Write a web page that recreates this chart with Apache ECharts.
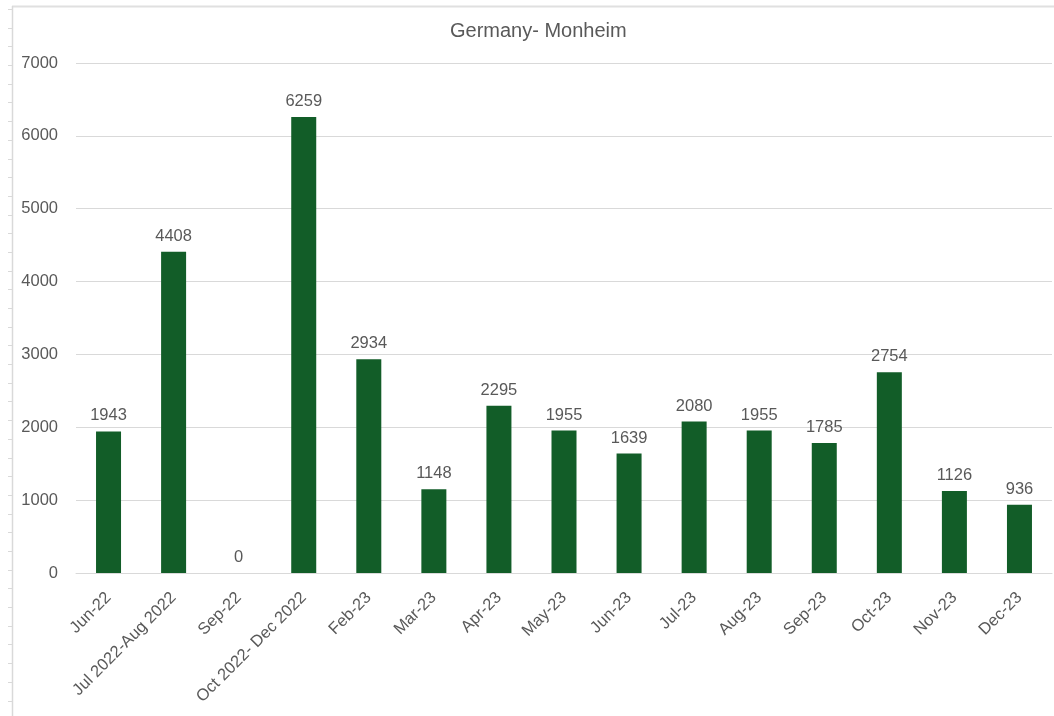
<!DOCTYPE html>
<html>
<head>
<meta charset="utf-8">
<script src="https://cdn.jsdelivr.net/npm/echarts@6/dist/echarts.min.js"></script>
<style>
  html, body { margin: 0; padding: 0; background: #fff; }
  #chart { width: 1054px; height: 716px; }
</style>
</head>
<body>
<div id="chart"></div>
<script>
// Monthly figures for the Monheim site
const categories = [
  'Jun-22', 'Jul 2022-Aug 2022', 'Sep-22', 'Oct 2022- Dec 2022', 'Feb-23',
  'Mar-23', 'Apr-23', 'May-23', 'Jun-23', 'Jul-23', 'Aug-23', 'Sep-23',
  'Oct-23', 'Nov-23', 'Dec-23'
];
const values = [1943, 4408, 0, 6259, 2934, 1148, 2295, 1955, 1639, 2080, 1955, 1785, 2754, 1126, 936];
const yTicks = [0, 1000, 2000, 3000, 4000, 5000, 6000, 7000];

const textColor = '#595959';
const fontFamily = '"Liberation Sans", Arial, Helvetica, sans-serif';

const chart = echarts.init(document.getElementById('chart'), null, { renderer: 'canvas' });

// Sheet frame: thin top and left border with row-style tick marks
const frame = [
  { type: 'line', shape: { x1: 12, y1: 6.5, x2: 1054, y2: 6.5 }, style: { stroke: '#e0e0e0', lineWidth: 2 }, silent: true },
  { type: 'line', shape: { x1: 12.5, y1: 6, x2: 12.5, y2: 716 }, style: { stroke: '#d9d9d9', lineWidth: 1.5 }, silent: true }
];
for (let y = 9; y < 716; y += 18.69) {
  frame.push({ type: 'line', shape: { x1: 8, y1: Math.round(y) + 0.5, x2: 12, y2: Math.round(y) + 0.5 }, style: { stroke: '#d9d9d9', lineWidth: 1 }, silent: true });
}

chart.setOption({
  animation: false,
  backgroundColor: '#ffffff',
  title: {
    text: 'Germany- Monheim',
    left: 445,
    top: 16,
    textStyle: { color: textColor, fontSize: 20, fontWeight: 'normal', fontFamily: fontFamily }
  },
  graphic: frame,
  grid: { left: 76, right: 2, top: 63, bottom: 143, containLabel: false },
  xAxis: {
    type: 'category',
    data: categories,
    axisLine: { show: true, lineStyle: { color: '#d9d9d9', width: 1 } },
    axisTick: { show: false },
    axisLabel: {
      rotate: 45,
      interval: 0,
      margin: 22,
      color: textColor,
      fontSize: 16.5,
      fontFamily: fontFamily
    }
  },
  yAxis: {
    type: 'value',
    min: yTicks[0],
    max: yTicks[yTicks.length - 1],
    interval: 1000,
    axisLine: { show: false },
    axisTick: { show: false },
    splitLine: { lineStyle: { color: '#d9d9d9', width: 1 } },
    axisLabel: {
      color: textColor,
      fontSize: 16.5,
      fontFamily: fontFamily,
      margin: 18,
      formatter: v => String(v)
    }
  },
  series: [{
    type: 'bar',
    data: values,
    barWidth: 25,
    itemStyle: { color: '#125d28' },
    label: {
      show: true,
      position: 'top',
      distance: 7,
      color: textColor,
      fontSize: 16.5,
      fontFamily: fontFamily
    }
  }]
});
</script>
</body>
</html>
